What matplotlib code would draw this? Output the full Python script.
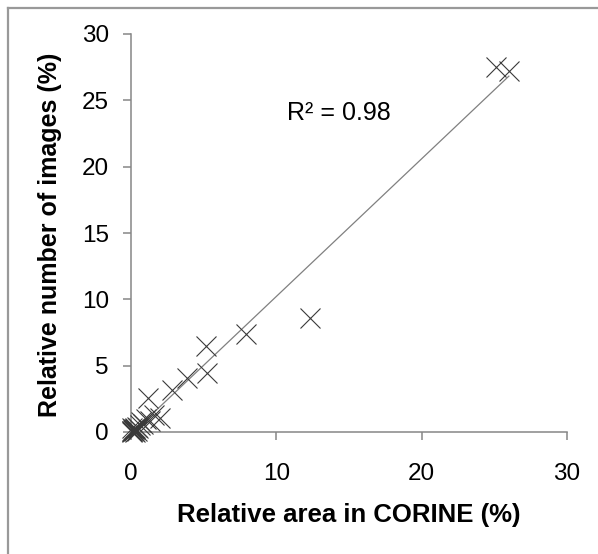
import numpy as np
import matplotlib
matplotlib.use("Agg")
import matplotlib.pyplot as plt
from matplotlib.lines import Line2D

plt.rcParams['font.family'] = ['Liberation Sans', 'DejaVu Sans']

# Relative area in CORINE (%) vs relative number of images (%)
area_pct = [26.0, 25.1, 12.3, 7.9, 5.15, 5.2, 3.85, 2.8, 1.2, 2.0,
            1.6, 1.3, 1.0, 0.8, 0.6, 0.5, 0.4, 0.3, 0.25, 0.2,
            0.15, 0.1, 0.05, 0.05, 0.3, 0.1, 0.4, 0.7, 0.2]
images_pct = [27.2, 27.5, 8.6, 7.4, 6.45, 4.45, 4.05, 3.2, 2.55, 1.05,
              1.3, 0.8, 1.0, 0.6, 0.5, 0.3, 0.4, 0.2, 0.3, 0.1,
              0.15, 0.05, 0.1, 0.0, 0.0, 0.3, 0.1, 0.75, 0.25]
r2_text = "R² = 0.98"

x = np.array(area_pct)
y = np.array(images_pct)

fig = plt.figure(figsize=(5.98, 5.54), dpi=100)
ax = fig.add_axes([131 / 598, 1 - 432 / 554, 436 / 598, 398 / 554])

# linear trendline over data range
slope, intercept = np.polyfit(x, y, 1)
xs = np.array([x.min(), x.max()])
ax.plot(xs, slope * xs + intercept, color="#808080", lw=0.9, zorder=2)

ax.plot(x, y, linestyle="none", marker="x", markersize=14,
        markeredgewidth=0.8, color="#3a3a3a", zorder=3, clip_on=False)

ax.text((287 - 131) / 436, (432 - 113) / 398, r2_text, transform=ax.transAxes,
        fontsize=18, va="center", ha="left")

ax.set_xlim(0, 30)
ax.set_ylim(0, 30)
ax.set_xticks([0, 10, 20, 30])
ax.set_yticks([0, 5, 10, 15, 20, 25, 30])

for side in ("top", "right"):
    ax.spines[side].set_visible(False)
for side in ("left", "bottom"):
    ax.spines[side].set_color("#868686")
    ax.spines[side].set_linewidth(1.1)

ax.tick_params(axis="both", direction="out", length=6, width=1.1,
               color="#868686", labelsize=17.5)
ax.tick_params(axis="y", pad=10)
ax.tick_params(axis="x", pad=16)

ax.set_xlabel("Relative area in CORINE (%)", fontsize=18.5, fontweight="bold")
ax.set_ylabel("Relative number of images (%)", fontsize=18, fontweight="bold")
ax.xaxis.set_label_coords(0.5, (432 - 515) / 398)
ax.yaxis.set_label_coords((50 - 131) / 436, (432 - 235) / 398)
ax.xaxis.label.set_va("center")
ax.yaxis.label.set_va("center")

# grey frame around the chart area
bx = 7.5 / 598
by = 1 - 7.5 / 554
fig.add_artist(Line2D([bx, bx], [0, by], transform=fig.transFigure,
                      color="#999999", lw=1.6))
fig.add_artist(Line2D([bx, 1], [by, by], transform=fig.transFigure,
                      color="#999999", lw=1.6))

fig.savefig("out.png", dpi=100)
